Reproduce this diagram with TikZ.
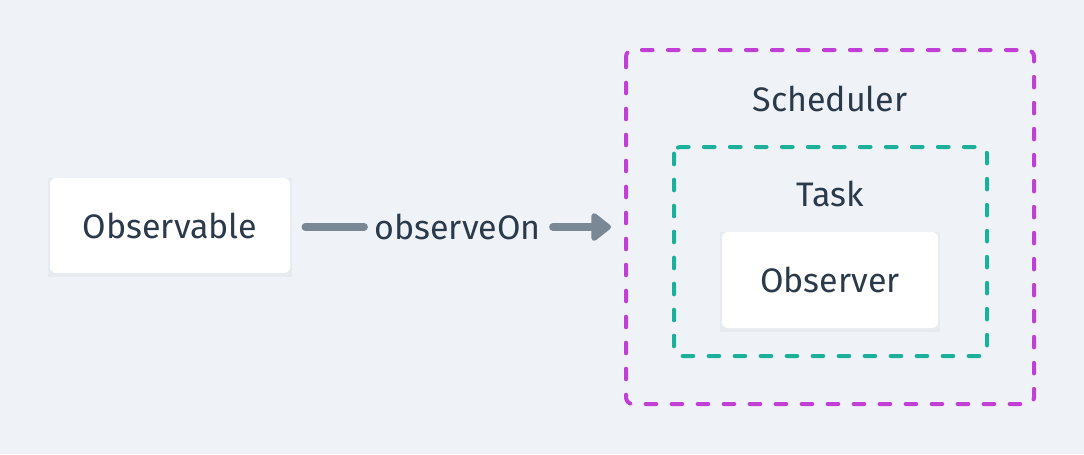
\documentclass[tikz,border=0pt]{standalone}
\usepackage{fontspec}
\setmainfont{Fira Sans}
\usetikzlibrary{arrows.meta}
\definecolor{bgc}{HTML}{EFF3F7}
\definecolor{txt}{HTML}{2B3A4A}
\definecolor{arr}{HTML}{7A8794}
\definecolor{mag}{HTML}{C23FD5}
\definecolor{teal}{HTML}{1AB09A}
\tikzset{
  card/.style={fill=white, rounded corners=4.5pt, inner sep=0pt, font=\fontsize{25.5}{30}\selectfont, text=txt},
  lbl/.style={font=\fontsize{25.5}{30}\selectfont, text=txt, inner sep=0pt},
  groupbox/.style={line width=3pt, line cap=round, dash pattern=on 8pt off 11.5pt, rounded corners=5pt},
  conn/.style={draw=arr, line width=5.6pt, line cap=round},
}
\begin{document}
\begin{tikzpicture}[x=0.75pt,y=-0.75pt]
\fill[bgc] (0,0) rectangle (1084,454);
\useasboundingbox (0,0) rectangle (1084,454);
% scheduler
\draw[groupbox, draw=mag] (626,50) rectangle (1034,404);
\node[lbl] (sch) at (830,99) {Scheduler};
% task
\draw[groupbox, draw=teal] (674,147) rectangle (987,356);
\node[lbl] (task) at (830,194) {Task};
% observer
\fill[black, opacity=0.03] (720,232) rectangle (940,332);
\node[card, minimum width=216*0.75pt, minimum height=96*0.75pt] (obsr) at (830,280) {Observer};
% observable
\fill[black, opacity=0.03] (48,178) rectangle (292,277);
\node[card, minimum width=240*0.75pt, minimum height=95*0.75pt] (obs) at (170,225.5) {Observable};
% label and arrow
\node[lbl] (on) at (457.5,227) {observeOn};
\coordinate (schw) at (626,227);
\draw[conn, shorten <=15*0.75pt, shorten >=10*0.75pt] (obs.east |- on.west) -- (on.west);
\draw[conn, shorten <=12*0.75pt, shorten >=15*0.75pt, -{Triangle[length=16pt, width=24pt, round]}] (on.east) -- (schw);
\end{tikzpicture}
\end{document}
